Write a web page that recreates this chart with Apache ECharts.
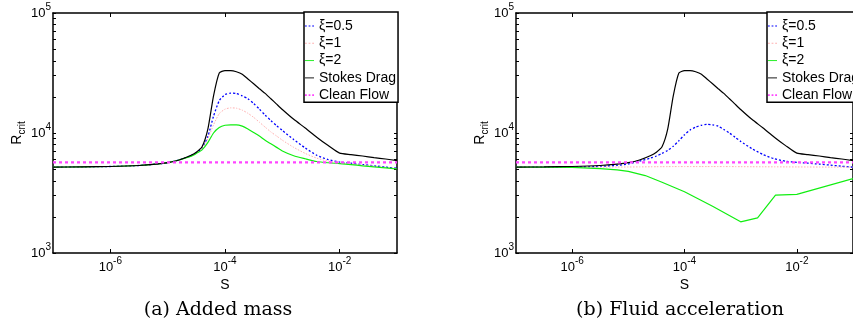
<!DOCTYPE html>
<html><head><meta charset="utf-8">
<script src="https://cdn.jsdelivr.net/npm/echarts@6/dist/echarts.min.js"></script>
<style>html,body{margin:0;padding:0;background:#fff}#c{width:853px;height:331px}</style>
</head><body><div id="c"></div>
<script>
// ---- data ----
const S = [1e-7, 3.16e-7, 1e-6, 3.16e-6, 6.31e-6, 1e-5, 1.58e-5, 2.51e-5,
           3.16e-5, 3.98e-5, 5.01e-5, 6.31e-5, 7.94e-5, 1e-4, 1.26e-4, 1.58e-4, 2.0e-4, 2.51e-4,
           3.16e-4, 3.98e-4, 5.01e-4, 6.31e-4, 7.94e-4, 1e-3,
           1.58e-3, 2.51e-3, 3.98e-3, 6.31e-3, 1e-2, 1.58e-2, 2.51e-2, 3.98e-2, 6.31e-2, 1e-1];
const stokes = [5200, 5220, 5260, 5360, 5500, 5660, 5960, 6490,
                6920, 7670, 10700, 20400, 31600, 33100, 33100, 32400, 30900, 28200,
                25700, 23400, 21400, 19300, 17400, 15700,
                13000, 11000, 9230, 7850, 6790, 6610, 6430, 6240, 6070, 5890];
const a_xi05 = [5200, 5220, 5260, 5360, 5500, 5660, 5960, 6460,
                6840, 7500, 9330, 13800, 18600, 20900, 21500, 21300, 20400, 19300,
                17600, 15800, 14100, 12700, 11500, 10500,
                8810, 7500, 6530, 6000, 5730, 5600, 5460, 5330, 5200, 5080];
const a_xi1  = [5200, 5220, 5260, 5360, 5500, 5660, 5960, 6430,
                6790, 7410, 8910, 11700, 14500, 15800, 16200, 16100, 15500, 14600,
                13500, 12300, 11200, 10200, 9440, 8710,
                7590, 6760, 6170, 5820, 5620, 5520, 5410, 5300, 5160, 5050];
const a_xi2  = [5200, 5220, 5260, 5360, 5500, 5660, 5960, 6380,
                6760, 7240, 8320, 10000, 11100, 11600, 11700, 11700, 11400, 10800,
                10100, 9440, 8710, 8130, 7590, 7080,
                6460, 6100, 5790, 5650, 5560, 5450, 5330, 5220, 5120, 5010];
const b_xi05 = [5200, 5200, 5210, 5270, 5370, 5520, 5820, 6190,
                6430, 6760, 7160, 7760, 8610, 9660, 10600, 11200, 11600, 11800,
                11700, 11400, 10700, 10000, 9230, 8510,
                7410, 6610, 6100, 5820, 5700, 5600, 5500, 5400, 5280, 5190];
const b_xi1  = [5200, 5200, 5200, 5200, 5205, 5210, 5220, 5230,
                5235, 5240, 5245, 5250, 5250, 5250, 5250, 5250, 5250, 5250,
                5250, 5250, 5250, 5250, 5245, 5240,
                5235, 5230, 5225, 5220, 5215, 5210, 5205, 5200, 5200, 5200];
const S_b2   = [1e-7, 3.16e-7, 1e-6, 3.16e-6, 6.31e-6, 1e-5, 2e-5, 3.98e-5, 1e-4, 3.16e-4,
                1e-3, 2e-3, 4.17e-3, 1e-2, 1e-1];
const b_xi2  = [5200, 5200, 5180, 5050, 4930, 4790, 4420, 3890, 3240, 2450,
                1820, 1960, 3040, 3080, 4170];
const S_clean = [1e-7, 1e-1];
const clean   = [5700, 5700];

const xTicks = [1e-6, 1e-4, 1e-2];
const yTicks = [1e3, 1e4, 1e5];
const yMinorTicks = [1e3, 2e3, 3e3, 4e3, 5e3, 6e3, 7e3, 8e3, 9e3, 1e4, 2e4, 3e4, 4e4, 5e4, 6e4, 7e4, 8e4, 9e4, 1e5];
const names = ['\u03be=0.5', '\u03be=1', '\u03be=2', 'Stokes Drag', 'Clean Flow'];
const captions = ['(a) Added mass', '(b) Fluid acceleration'];
const xName = 'S';

// ---- styling ----
const SANS = 'Liberation Sans, Arial, Helvetica, sans-serif';
const styles = [
  {color: '#0000ff', width: 1.3, type: [2, 2]},
  {color: '#ffb0b0', width: 1, type: [1.5, 1.5]},
  {color: '#11ee11', width: 1.2, type: 'solid'},
  {color: '#000000', width: 1.2, type: 'solid'},
  {color: '#ff44ff', width: 2.2, type: [3, 3]}
];
const icons = [
  'path://M0,0h2v1h-2z M4,0h2v1h-2z M8,0h2v1h-2z',
  'path://M0,0h2v1h-2z M4,0h2v1h-2z M8,0h2v1h-2z',
  'path://M0,0h10v1h-10z',
  'path://M0,0h10v1h-10z',
  'path://M0,0h2v2h-2z M4,0h2v2h-2z M8,0h2v2h-2z'
];
const grids = [{left: 53, top: 13, width: 344, height: 240}, {left: 516, top: 13, width: 343, height: 240}];

const richLab = {
  b: {fontSize: 13, lineHeight: 22, fontFamily: SANS, color: '#000', verticalAlign: 'middle'},
  s: {fontSize: 10, lineHeight: 10, fontFamily: SANS, color: '#000', verticalAlign: 'top'}
};
function fmt(v) { return '{b|10}{s|' + Math.round(Math.log10(v)) + '}'; }
const axLine = {show: true, onZero: false, lineStyle: {color: '#000', width: 1.5}};

const xAxis = [], yAxis = [];
grids.forEach((g, gi) => {
  xAxis.push({type: 'log', logBase: 10, gridIndex: gi, position: 'bottom', min: 1e-7, max: 1e-1,
    axisLine: axLine, splitLine: {show: false}, minorTick: {show: false},
    axisTick: {show: true, inside: true, length: 4, customValues: xTicks, lineStyle: {color: '#000', width: 1}},
    axisLabel: {show: true, customValues: xTicks, margin: 3, formatter: fmt, rich: richLab},
    name: xName, nameLocation: 'middle', nameGap: 14,
    nameTextStyle: {fontFamily: SANS, fontSize: 14, color: '#000'}});
  xAxis.push({type: 'log', logBase: 10, gridIndex: gi, position: 'top', min: 1e-7, max: 1e-1,
    axisLine: axLine, splitLine: {show: false},
    axisTick: {show: true, inside: true, length: 4, customValues: xTicks, lineStyle: {color: '#000', width: 1}},
    axisLabel: {show: false}});
  yAxis.push({type: 'log', logBase: 10, gridIndex: gi, position: 'left', min: 1e3, max: 1e5,
    axisLine: axLine, splitLine: {show: false},
    axisTick: {show: true, inside: true, length: 3, customValues: yMinorTicks, lineStyle: {color: '#000', width: 1}},
    axisLabel: {show: true, customValues: yTicks, margin: 2, formatter: fmt, rich: richLab},
    name: 'R{s|crit}', nameLocation: 'middle', nameRotate: 90, nameGap: 25,
    nameTextStyle: {fontFamily: SANS, fontSize: 14, lineHeight: 20, color: '#000',
      rich: {s: {fontFamily: SANS, fontSize: 10, color: '#000', verticalAlign: 'bottom'}}}});
  yAxis.push({type: 'log', logBase: 10, gridIndex: gi, position: 'right', min: 1e3, max: 1e5,
    axisLine: axLine, splitLine: {show: false},
    axisTick: {show: true, inside: true, length: 3, customValues: yMinorTicks, lineStyle: {color: '#000', width: 1}},
    axisLabel: {show: false}});
});

function mk(name, xs, ys, st, gi, smooth) {
  return {type: 'line', name: name, xAxisIndex: gi * 2, yAxisIndex: gi * 2,
    data: xs.map((x, i) => [x, ys[i]]), symbol: 'none', smooth: smooth,
    lineStyle: {color: st.color, width: st.width, type: st.type}, itemStyle: {color: st.color},
    emphasis: {disabled: true}, silent: true};
}
const series = [
  mk(names[0], S, a_xi05, styles[0], 0, 0.2),
  mk(names[1], S, a_xi1, styles[1], 0, 0.2),
  mk(names[2], S, a_xi2, styles[2], 0, 0.2),
  mk(names[3], S, stokes, styles[3], 0, 0.2),
  mk(names[4], S_clean, clean, styles[4], 0, false),
  mk(names[0], S, b_xi05, styles[0], 1, 0.2),
  mk(names[1], S, b_xi1, styles[1], 1, 0.2),
  mk(names[2], S_b2, b_xi2, styles[2], 1, false),
  mk(names[3], S, stokes, styles[3], 1, 0.2),
  mk(names[4], S_clean, clean, styles[4], 1, false)
];

const legendData = names.map((n, i) => ({name: n, icon: icons[i], itemStyle: {color: styles[i].color}}));
const legendBase = {orient: 'vertical', top: 12, itemWidth: 9, itemHeight: 14, itemGap: 3.3,
  padding: [7, 2, 0, 1], borderColor: '#000', borderWidth: 1.5, borderRadius: 0, backgroundColor: '#fff',
  selectedMode: false, textStyle: {fontFamily: SANS, fontSize: 14, color: '#000'}, data: legendData};

const chart = echarts.init(document.getElementById('c'), null, {renderer: 'canvas'});
chart.setOption({
  animation: false,
  backgroundColor: '#fff',
  grid: grids,
  xAxis: xAxis,
  yAxis: yAxis,
  legend: [Object.assign({left: 304}, legendBase), Object.assign({left: 767}, legendBase)],
  series: series,
  graphic: [
    {type: 'text', x: 218, y: 310, style: {text: captions[0], align: 'center', verticalAlign: 'middle',
      font: '19px "DejaVu Serif", serif', fill: '#000'}},
    {type: 'text', x: 680, y: 310, style: {text: captions[1], align: 'center', verticalAlign: 'middle',
      font: '19px "DejaVu Serif", serif', fill: '#000'}}
  ]
});
</script></body></html>
